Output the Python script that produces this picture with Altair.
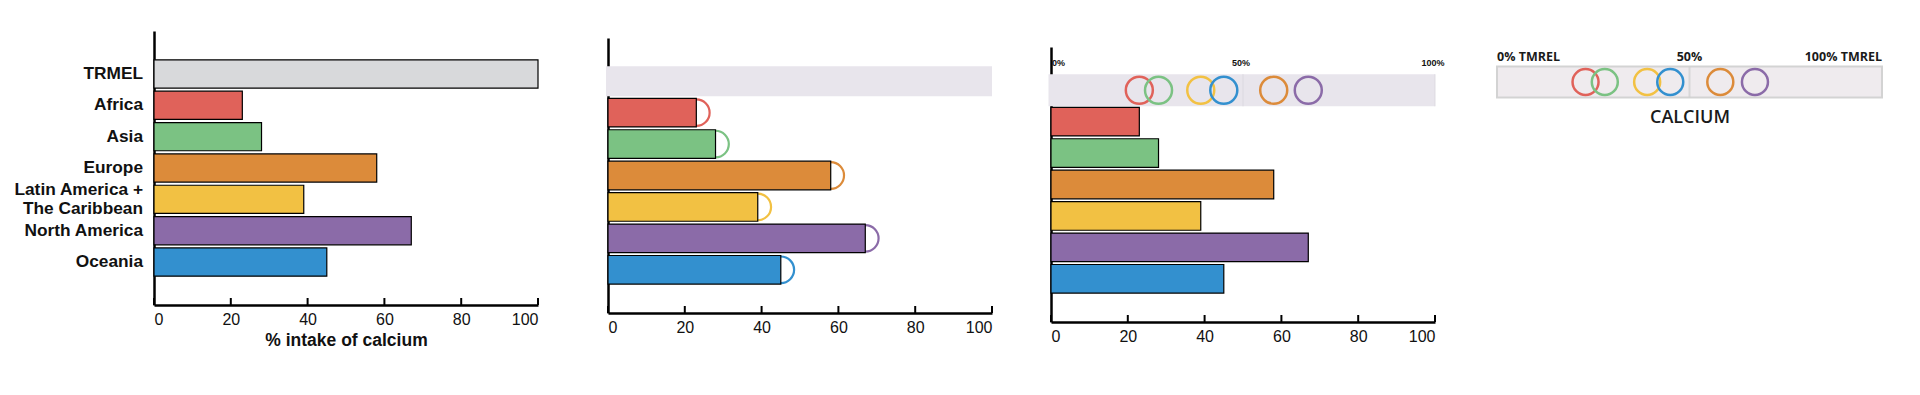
import altair as alt
import pandas as pd

# ---------------- data ----------------
categories = ["TRMEL", "Africa", "Asia", "Europe",
              "Latin America + The Caribbean", "North America", "Oceania"]
intake = [100, 23, 28, 58, 39, 67, 45]
bar_colors = ["#D8D9DB", "#E0625A", "#7BC283", "#DC8B3A", "#F2C143", "#8B6BA8", "#3390CF"]
x_ticks = [0, 20, 40, 60, 80, 100]
band_marks = [0, 50, 100]
small_labels = ["0%", "50%", "100%"]
big_labels = ["0% TMREL", "50%", "100% TMREL"]
nutrient = "CALCIUM"

df = pd.DataFrame({"region": categories, "intake": intake, "color": bar_colors})
df["nutrient"] = nutrient
df["row"] = "TRMEL"          # row of the summary band in which circles sit
reg = df[df["region"] != "TRMEL"]
trm = df[df["region"] == "TRMEL"]
ticks_df = pd.DataFrame({"intake": x_ticks})
marks_df = pd.DataFrame({"intake": band_marks, "small": small_labels, "big": big_labels,
                         "region": "TRMEL", "row": "TRMEL", "nutrient": nutrient})

FONT = "Liberation Sans"
FONT4 = "Open Sans"
INK = "#111111"
TWO_LINE = "Latin America + The Caribbean"


def x_enc(title=None):
    return alt.X("intake:Q", scale=alt.Scale(domain=[0, 100], nice=False),
                 axis=alt.Axis(values=x_ticks, ticks=False, grid=False,
                               domainColor="black", domainWidth=2.5,
                               labelFont=FONT, labelFontSize=16, labelColor=INK,
                               labelPadding=6, title=title, titleFont=FONT,
                               titleFontSize=17.5, titleFontWeight="bold",
                               titlePadding=4, titleColor=INK))


def tick_layer(h):
    return alt.Chart(ticks_df).mark_rule(color="black", strokeWidth=2).encode(
        x=alt.X("intake:Q"), y=alt.value(h - 7), y2=alt.value(h))


def y_enc(rng, pin, labels=False, field="region"):
    if labels:
        ax = alt.Axis(title=None, ticks=False, labelPadding=11.5, labelFont=FONT,
                      labelFontSize=17.3, labelFontWeight="bold", labelColor=INK,
                      labelLimit=300, labelLineHeight=18.5,
                      labelOffset=alt.condition(f"datum.label == '{TWO_LINE}'",
                                                alt.value(-9.25), alt.value(0)),
                      labelExpr=f"datum.label == '{TWO_LINE}' ? "
                                "['Latin America +', 'The Caribbean'] : datum.label",
                      domainColor="black", domainWidth=2.5)
    else:
        ax = alt.Axis(title=None, labels=False, ticks=False,
                      domainColor="black", domainWidth=2.5)
    return alt.Y(f"{field}:N", sort=categories,
                 scale=alt.Scale(domain=categories, range=rng, paddingInner=pin,
                                 paddingOuter=0.92, align=0.5),
                 axis=ax)


# ---------------- panel 1 ----------------
H1 = 274
y1 = y_enc([0, H1], 0.1, labels=True)
p1 = alt.layer(
    alt.Chart(df).mark_bar(stroke="black", strokeWidth=1.2).encode(
        x=x_enc("% intake of calcium"), y=y1, fill=alt.Fill("color:N", scale=None)),
    tick_layer(H1),
).properties(width=384, height=H1)

# ---------------- panel 2 ----------------
H2 = 282
y2 = y_enc([7, H2], 0.09)
p2 = alt.layer(
    alt.Chart(trm).mark_bar(size=30, color="#E8E5EC", x2Offset=-2).encode(
        x=x_enc(), x2=alt.datum(0), y=y2),
    alt.Chart(reg).mark_point(shape="M0,-1A1,1 0 0,1 0,1", filled=True, size=708,
                              strokeWidth=2.2, opacity=1).encode(
        x=x_enc(), y=y2, fill=alt.value("white"),
        stroke=alt.Stroke("color:N", scale=None)),
    alt.Chart(reg).mark_bar(stroke="black", strokeWidth=1.2).encode(
        x=x_enc(), y=y2, fill=alt.Fill("color:N", scale=None)),
    tick_layer(H2),
).properties(width=384, height=H2)

# ---------------- panel 3 ----------------
H3 = 291
y3 = y_enc([16, H3], 0.09)
y3row = y_enc([16, H3], 0.09, field="row")
p3 = alt.layer(
    alt.Chart(trm).mark_bar(size=32, color="#E8E5EC", x2Offset=-2.5).encode(
        x=x_enc(), x2=alt.datum(0), y=y3),
    alt.Chart(marks_df.iloc[1:]).mark_tick(size=32, thickness=1.2, color="#D9D6DD").encode(
        x=x_enc(), y=y3),
    alt.Chart(reg).mark_point(filled=False, size=729, strokeWidth=2.5, opacity=1).encode(
        x=x_enc(), y=y3row, stroke=alt.Stroke("color:N", scale=None)),
    alt.Chart(marks_df.iloc[:1]).mark_text(align="left", baseline="middle", dy=-27, dx=1,
                                           font=FONT, fontSize=9, fontWeight="bold",
                                           color=INK).encode(
        x=x_enc(), y=y3, text="small:N"),
    alt.Chart(marks_df.iloc[1:]).mark_text(align="center", baseline="middle", dy=-27, dx=-2,
                                           font=FONT, fontSize=9, fontWeight="bold",
                                           color=INK).encode(
        x=x_enc(), y=y3, text="small:N"),
    alt.Chart(reg).mark_bar(stroke="black", strokeWidth=1.2).encode(
        x=x_enc(), y=y3, fill=alt.Fill("color:N", scale=None)),
    tick_layer(H3),
).properties(width=384, height=H3)

# ---------------- panel 4 ----------------
H4 = 67
x4 = alt.X("intake:Q", scale=alt.Scale(domain=[0, 100], nice=False),
           axis=alt.Axis(title=nutrient, labels=False, ticks=False, domain=False, grid=False,
                         titleFont=FONT4, titleFontSize=18, titleFontWeight=600,
                         titlePadding=10, titleColor="#1a1a1a"))
y4 = alt.Y("nutrient:N", axis=None,
           scale=alt.Scale(paddingInner=0, paddingOuter=0.547, align=1))
lab = dict(baseline="middle", dy=-25, font=FONT4, fontSize=12.5, fontWeight="bold", color="#1a1a1a")
p4 = alt.layer(
    alt.Chart(trm).mark_bar(size=31, fill="#EFEBEE", stroke="#D3D3D3", strokeWidth=2).encode(
        x=x4, y=y4),
    alt.Chart(marks_df.iloc[1:2]).mark_tick(size=31, thickness=2, color="#CFCFCF").encode(
        x=x4, y=y4),
    alt.Chart(reg).mark_point(filled=False, size=676, strokeWidth=2.5, opacity=1).encode(
        x=x4, y=y4, stroke=alt.Stroke("color:N", scale=None)),
    alt.Chart(marks_df.iloc[0:1]).mark_text(align="left", **lab).encode(x=x4, y=y4, text="big:N"),
    alt.Chart(marks_df.iloc[1:2]).mark_text(align="center", **lab).encode(x=x4, y=y4, text="big:N"),
    alt.Chart(marks_df.iloc[2:3]).mark_text(align="right", **lab).encode(x=x4, y=y4, text="big:N"),
).properties(width=385, height=H4)

chart = alt.hconcat(
    p1,
    alt.hconcat(p2, alt.hconcat(p3, p4, spacing=51), spacing=55),
    spacing=67,
).configure_view(stroke=None).properties(
    padding={"left": 5, "right": 5, "top": 23, "bottom": 5}
)

chart.save("out.html", embed_options={"renderer": "svg", "actions": False})
